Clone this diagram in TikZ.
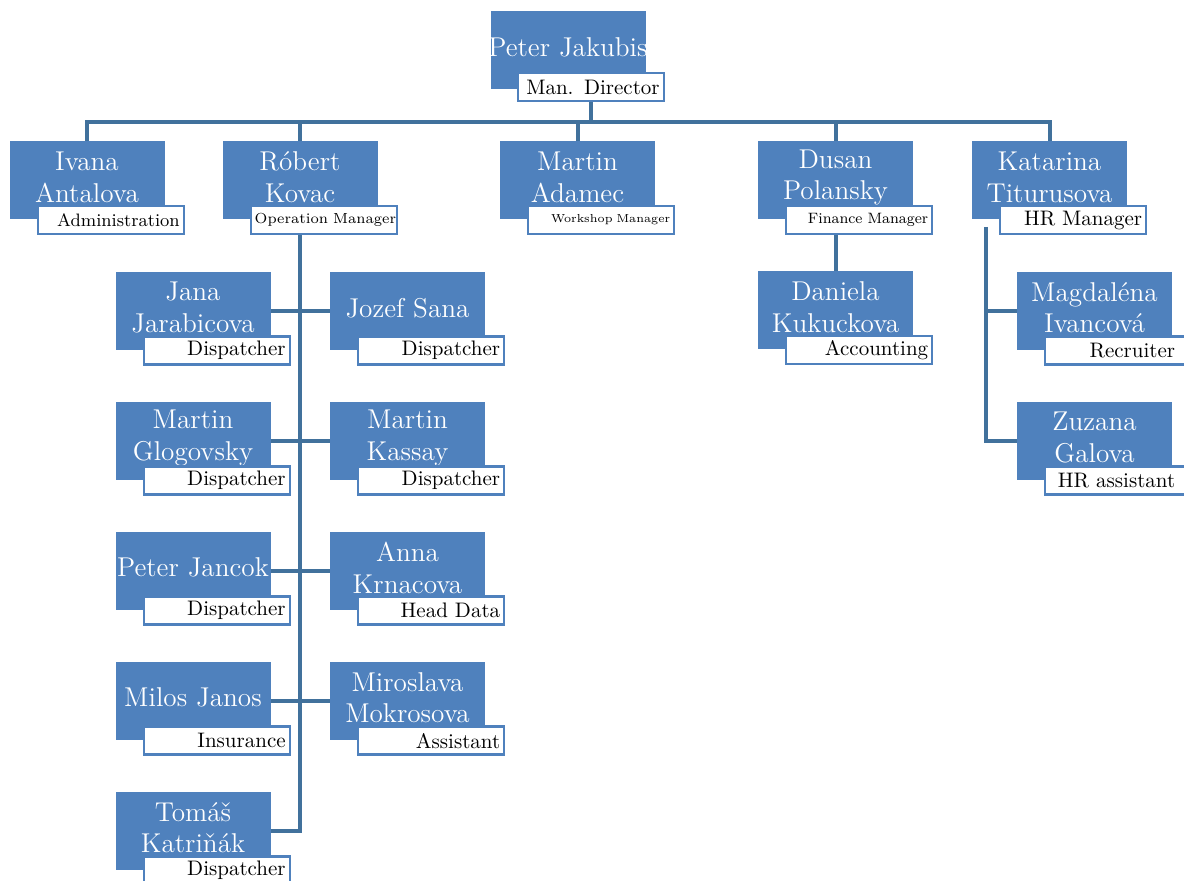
\documentclass[tikz,border=0pt]{standalone}
\usepackage{tikz}
\usetikzlibrary{positioning,backgrounds}

\definecolor{boxblue}{RGB}{79,129,189}
\definecolor{lineblue}{RGB}{65,113,156}

\begin{document}
\begin{tikzpicture}[x=0.5pt,y=-0.5pt,node distance=65pt,on grid,
   nametext/.style={text=white,align=center,yshift=1.6pt,inner sep=0pt,
      font=\fontsize{13.6}{15.8}\selectfont},
   person/.style={fill=boxblue,minimum width=77.5pt,minimum height=39pt,
      inner sep=0pt,label={[nametext]center:#1}},
   role/.style={draw=boxblue,fill=white,line width=1.2pt,text width=69pt,align=right,
      minimum height=14pt,inner xsep=2pt,inner ysep=0pt,anchor=north east,
      font=\fontsize{10.5}{12}\selectfont},
   conn/.style={draw=lineblue,line width=2pt}]
   \useasboundingbox (0,0) rectangle (1184,881);
   % top
   \node[person={Peter Jakubis}] (jakubis) at (568,50.5) {};
   \node[role] (jakubis_r) at ([shift={(19,-18)}]jakubis.south east) {Man. Director};
   % managers
   \node[person={Ivana\\Antalova}] (antalova) at (87,180.5) {};
   \node[role,font=\fontsize{9}{11}\selectfont] (antalova_r) at ([shift={(20,-15)}]antalova.south east) {Administration};
   \node[person={Róbert\\Kovac}] (kovac) at (300,180.5) {};
   \node[role,font=\fontsize{7.3}{9}\selectfont] (kovac_r) at ([shift={(20,-15)}]kovac.south east) {\mbox{Operation Manager}};
   \node[person={Martin\\Adamec}] (adamec) at (577.5,180.5) {};
   \node[role,font=\fontsize{5.8}{8}\selectfont] (adamec_r) at ([shift={(20,-15)}]adamec.south east) {Workshop Manager};
   \node[person={Dusan\\Polansky}] (polansky) at (835.5,180.5) {};
   \node[role,font=\fontsize{7.5}{9}\selectfont] (polansky_r) at ([shift={(20,-15)}]polansky.south east) {Finance Manager};
   \node[person={Katarina\\Titurusova}] (titurusova) at (1049.5,180.5) {};
   \node[role] (titurusova_r) at ([shift={(20,-15)}]titurusova.south east) {HR Manager};
   % operations
   \node[person={Jana\\Jarabicova}] (jarabicova) at (193,311) {};
   \node[role] (jarabicova_r) at ([shift={(20,-15)}]jarabicova.south east) {Dispatcher};
   \node[person={Jozef Sana}] (sana) [right=107.25pt of jarabicova] {};
   \node[role] (sana_r) at ([shift={(20,-15)}]sana.south east) {Dispatcher};
   \node[person={Martin\\Glogovsky}] (glogovsky) [below=of jarabicova] {};
   \node[role] (glogovsky_r) at ([shift={(20,-15)}]glogovsky.south east) {Dispatcher};
   \node[person={Martin\\Kassay}] (kassay) [below=of sana] {};
   \node[role] (kassay_r) at ([shift={(20,-15)}]kassay.south east) {Dispatcher};
   \node[person={Peter Jancok}] (jancok) [below=of glogovsky] {};
   \node[role] (jancok_r) at ([shift={(20,-15)}]jancok.south east) {Dispatcher};
   \node[person={Anna\\Krnacova}] (krnacova) [below=of kassay] {};
   \node[role] (krnacova_r) at ([shift={(20,-15)}]krnacova.south east) {Head Data};
   \node[person={Milos Janos}] (janos) [below=of jancok] {};
   \node[role] (janos_r) at ([shift={(20,-15)}]janos.south east) {Insurance};
   \node[person={Miroslava\\Mokrosova}] (mokrosova) [below=of krnacova] {};
   \node[role] (mokrosova_r) at ([shift={(20,-15)}]mokrosova.south east) {Assistant};
   \node[person={Tomáš\\Katriňák}] (katrinak) [below=of janos] {};
   \node[role] (katrinak_r) at ([shift={(20,-15)}]katrinak.south east) {Dispatcher};
   % finance
   \node[person={Daniela\\Kukuckova}] (kukuckova) [below=of polansky] {};
   \node[role] (kukuckova_r) at ([shift={(20,-15)}]kukuckova.south east) {Accounting};
   % hr
   \node[person={Magdaléna\\Ivancová}] (ivancova) at (1094.5,311) {};
   \node[role] (ivancova_r) at ([shift={(20,-15)}]ivancova.south east) {\mbox{Recruiter}\kern6pt};
   \node[person={Zuzana\\Galova}] (galova) [below=of ivancova] {};
   \node[role] (galova_r) at ([shift={(20,-15)}]galova.south east) {\mbox{HR assistant}\kern6pt};

   \begin{scope}[on background layer]
   \coordinate (bus) at (0,122);
   \coordinate (hr) at ([shift={(14,7)}]titurusova.south west);
   \path[conn] (jakubis_r.south) -- (jakubis_r.south |- bus);
   \path[conn] (antalova.north) -- (antalova.north |- bus) -- (titurusova.north |- bus) -- (titurusova.north);
   \foreach \n in {kovac,adamec,polansky}
      \path[conn] (\n.north) -- (\n.north |- bus);
   \path[conn] (kovac.south) |- (katrinak.east);
   \path[conn] (jarabicova.east) -- (sana.west)
               (glogovsky.east) -- (kassay.west)
               (jancok.east) -- (krnacova.west)
               (janos.east) -- (mokrosova.west);
   \path[conn] (polansky.south) -- (kukuckova.north);
   \path[conn] (hr) |- (galova.west);
   \path[conn] (ivancova.west) -- (ivancova.west -| hr);
   \end{scope}
\end{tikzpicture}
\end{document}
